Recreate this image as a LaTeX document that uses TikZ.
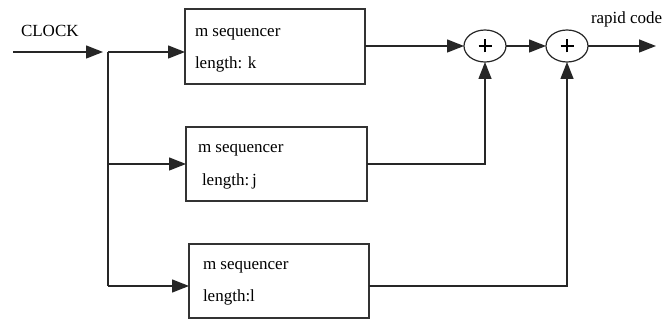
\documentclass[tikz,border=0pt]{standalone}
\usepackage{fontspec}
\setmainfont{Liberation Serif}
\usetikzlibrary{arrows.meta,shapes.geometric}

\begin{document}
\begin{tikzpicture}[x=1pt,y=-1pt,
  every node/.style={inner sep=0pt,outer sep=0pt},
  wire/.style={line width=1.4pt,draw=black!85},
  flow/.style={wire,-{Triangle[length=17pt,width=13pt]}},
  seqbox/.style={draw=black!80,line width=1.5pt,minimum width=180pt,minimum height=74pt},
  adder/.style={ellipse,draw=black!85,line width=1.2pt,minimum width=42pt,minimum height=32pt},
  txt/.style={font=\fontsize{17}{20}\selectfont},
  lbl/.style={txt,anchor=west,text height=11pt,text depth=3.5pt}
]
\useasboundingbox (0,0) rectangle (664,320);

% sequence generators
\node[seqbox,minimum height=75pt] (k) at (275,46.5) {};
\node[seqbox,minimum width=181pt] (j) at (276.5,164) {};
\node[seqbox] (l) at (279,281) {};

\node[lbl] (k1) at (195,33) {m sequencer};
\node[lbl] (k2) at (195,65) {length: k};
\node[lbl] (j1) at (198,149) {m sequencer};
\node[lbl] (j2) at (202,182) {length:\,j};
\node[lbl] (l1) at (203,266) {m sequencer};
\node[lbl] (l2) at (203,298) {length:l};

% modulo-2 adders, each marked with a heavy plus
\node[adder] (a1) at (485,46) {};
\node[adder] (a2) at (567,46) {};
\foreach \a in {a1,a2}{
  \draw[line width=2.7pt,black] ([xshift=-6.5pt]\a.center) -- ([xshift=6.5pt]\a.center)
    ([yshift=-6.5pt]\a.center) -- ([yshift=6.5pt]\a.center);
}

% labels
\node[txt,anchor=west] (clk) at (21,31) {CLOCK};
\node[txt,anchor=west] (rc) at (591,19) {rapid code};

% free ends of the clock tree
\coordinate (cin) at (13,52);
\coordinate (jn) at (108,52);
\coordinate (jm) at (108,164);
\coordinate (jb) at (108,286);
\coordinate (out) at (656,46);

% clock distribution
\draw[flow,shorten >=5pt] (cin) -- (jn);
\draw[wire] (jn) -- (jb);
\draw[flow] (jn) -- (jn -| k.west);
\draw[flow] (jm) -- (jm -| j.west);
\draw[flow] (jb) -- (jb -| l.west);

% outputs to the adders
\draw[flow] (k.east |- a1.west) -- (a1.west);
\draw[flow] (j.east) -| (a1.south);
\draw[flow] (jb -| l.east) -| (a2.south);
\draw[flow] (a1.east) -- (a2.west);
\draw[flow] (a2.east) -- (out);
\end{tikzpicture}
\end{document}
